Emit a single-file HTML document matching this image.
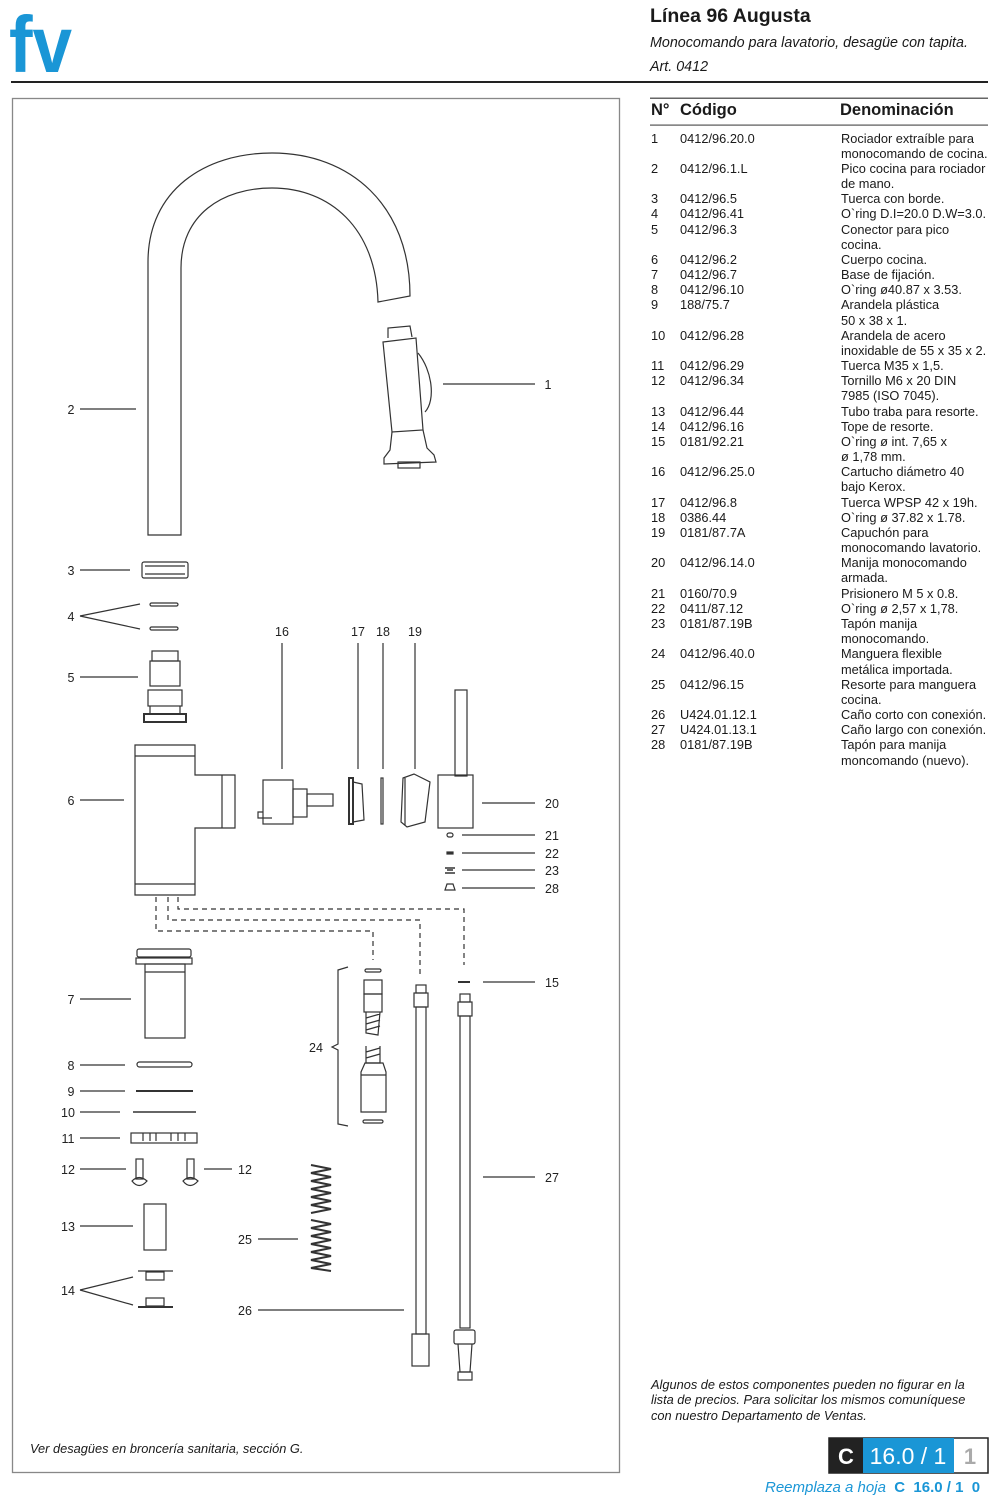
<!DOCTYPE html>
<html><head><meta charset="utf-8"><style>
body{margin:0;width:1007px;height:1500px;background:#fff;position:relative;font-family:"Liberation Sans",Arial,sans-serif;color:#1a1a1a;overflow:hidden}
.a{position:absolute;white-space:nowrap}
#tbl{position:absolute;left:651px;top:130.5px;font-size:12.8px;line-height:15.17px}
#tbl .r{display:flex}
#tbl .n{width:29px}
#tbl .c{width:161px}
</style></head><body>
<svg class="a" style="left:0;top:0" width="1007" height="1500" viewBox="0 0 1007 1500">
<text x="9" y="72" font-family="Liberation Sans" font-weight="bold" font-size="80" fill="#1a96d6" textLength="63" lengthAdjust="spacingAndGlyphs">fv</text>
<rect x="11" y="81" width="977" height="2" fill="#222"/>
<rect x="12.5" y="98.5" width="607" height="1374" fill="none" stroke="#888" stroke-width="1.3"/>
<rect x="650" y="97.5" width="338" height="1.5" fill="#666"/>
<rect x="650" y="124.5" width="338" height="1.2" fill="#555"/>
<g fill="none" stroke="#333" stroke-width="1.2">
<path d="M148,535 L148,262 C148,190 205,153 272,153 C350,153 410,205 410,296 L378,302 C376,228 330,188 272,188 C222,188 181,215 181,268 L181,535 Z"/>
<path d="M388,338 L388,328 L410,326 L412,337"/><path d="M383,342 L416,338 L423,430 L392,432 Z"/><path d="M392,432 L390,450 L384,458 L384,464 L436,462 L434,455 L427,448 L423,430"/><rect x="398" y="462" width="22" height="6"/><path d="M418,353 C432,370 436,400 425,412"/>
<line x1="443" y1="384" x2="535" y2="384"/>
<line x1="80" y1="409" x2="136" y2="409"/>
<line x1="80" y1="570" x2="130" y2="570"/>
<line x1="80" y1="616" x2="140" y2="604"/><line x1="80" y1="616" x2="140" y2="629"/>
<line x1="80" y1="677" x2="138" y2="677"/>
<line x1="80" y1="800" x2="124" y2="800"/>
<line x1="282" y1="643" x2="282" y2="769"/>
<line x1="358" y1="643" x2="358" y2="769"/>
<line x1="383" y1="643" x2="383" y2="769"/>
<line x1="415" y1="643" x2="415" y2="769"/>
<line x1="482" y1="803" x2="535" y2="803"/>
<line x1="462" y1="835" x2="535" y2="835"/>
<line x1="462" y1="853" x2="535" y2="853"/>
<line x1="462" y1="870" x2="535" y2="870"/>
<line x1="462" y1="888" x2="535" y2="888"/>
<line x1="483" y1="982" x2="535" y2="982"/>
<line x1="483" y1="1177" x2="535" y2="1177"/>
<line x1="80" y1="999" x2="131" y2="999"/>
<line x1="80" y1="1065" x2="125" y2="1065"/>
<line x1="80" y1="1091" x2="125" y2="1091"/>
<line x1="80" y1="1112" x2="120" y2="1112"/>
<line x1="80" y1="1138" x2="120" y2="1138"/>
<line x1="80" y1="1169" x2="126" y2="1169"/>
<line x1="204" y1="1169" x2="232" y2="1169"/>
<line x1="80" y1="1226" x2="133" y2="1226"/>
<line x1="80" y1="1290" x2="133" y2="1277"/><line x1="80" y1="1290" x2="133" y2="1305"/>
<line x1="258" y1="1239" x2="298" y2="1239"/>
<line x1="258" y1="1310" x2="404" y2="1310"/>
<rect x="142" y="562" width="46" height="16" rx="2"/><line x1="145" y1="566" x2="185" y2="566"/><line x1="145" y1="574" x2="185" y2="574"/>
<rect x="150" y="603" width="28" height="3" rx="1.5"/><rect x="150" y="627" width="28" height="3" rx="1.5"/>
<rect x="152" y="651" width="26" height="10"/><rect x="150" y="661" width="30" height="25"/><rect x="148" y="690" width="34" height="16"/><rect x="144" y="714" width="42" height="8" stroke-width="2"/><line x1="150" y1="706" x2="150" y2="714"/><line x1="180" y1="706" x2="180" y2="714"/>
<path d="M135,745 L195,745 L195,775 L235,775 L235,828 L195,828 L195,895 L135,895 Z"/><line x1="135" y1="756" x2="195" y2="756"/><line x1="135" y1="884" x2="195" y2="884"/><line x1="222" y1="775" x2="222" y2="828"/>
<rect x="263" y="780" width="30" height="44"/><rect x="293" y="789" width="14" height="28"/><rect x="307" y="794" width="26" height="12"/><path d="M263,812 L258,812 L258,818 L272,818"/>
<rect x="349" y="778" width="4" height="46" stroke-width="2"/><path d="M353,782 L362,784 L364,820 L353,822"/>
<rect x="381" y="778" width="2" height="46"/>
<path d="M403,778 L414,774 L430,782 L425,822 L407,827 L401,822 Z"/><line x1="405" y1="778" x2="405" y2="825"/>
<rect x="455" y="690" width="12" height="86"/><rect x="438" y="775" width="35" height="53"/>
<rect x="447" y="833" width="6" height="4" rx="2"/><rect x="447" y="852" width="6" height="2" fill="#333"/>
<path d="M445,868 L455,868 M447,870 L453,870 M445,873 L455,873" stroke-width="1.6"/>
<path d="M447,884 L453,884 L455,890 L445,890 Z"/>
<g stroke-dasharray="5,4">
<path d="M156,897 L156,931 L373,931 L373,960"/>
<path d="M168,897 L168,920 L420,920 L420,975"/>
<path d="M178,897 L178,909 L464,909 L464,965"/>
</g>
<rect x="137" y="949" width="54" height="8" rx="2"/><rect x="136" y="958" width="56" height="6"/><rect x="145" y="964" width="40" height="74"/><line x1="145" y1="972" x2="185" y2="972"/>
<rect x="137" y="1062" width="55" height="5" rx="2.5"/>
<line x1="136" y1="1091" x2="193" y2="1091" stroke-width="2"/>
<line x1="133" y1="1112" x2="196" y2="1112" stroke-width="2" stroke="#666"/>
<rect x="131" y="1133" width="66" height="10"/><path d="M143,1133 V1141 M150,1133 V1141 M156,1133 V1141 M171,1133 V1141 M178,1133 V1141 M185,1133 V1141"/>
<rect x="136" y="1159" width="7" height="20"/><path d="M132,1181 Q139,1174 147,1181 Q139,1190 132,1181Z"/>
<rect x="187" y="1159" width="7" height="20"/><path d="M183,1181 Q190,1174 198,1181 Q190,1190 183,1181Z"/>
<rect x="144" y="1204" width="22" height="46"/>
<line x1="138" y1="1271" x2="173" y2="1271"/><rect x="146" y="1272" width="18" height="8"/>
<rect x="146" y="1298" width="18" height="8"/><line x1="138" y1="1307" x2="173" y2="1307" stroke-width="2"/>
<path d="M348,967 L338,970 L338,1044 L332,1047 L338,1050 L338,1124 L348,1126"/>
<rect x="365" y="969" width="16" height="3" rx="1.5"/>
<rect x="364" y="980" width="18" height="14"/><rect x="364" y="994" width="18" height="18"/><path d="M366,1012 L366,1033 L378,1035 L380,1012 M366,1018 L380,1014 M366,1024 L380,1020 M366,1030 L380,1026"/>
<path d="M366,1046 L366,1063 L380,1063 L380,1046 M366,1052 L380,1048 M366,1058 L380,1054"/><path d="M361,1072 L365,1063 L383,1063 L386,1072 L386,1112 L361,1112 Z"/><line x1="361" y1="1075" x2="386" y2="1075"/>
<rect x="363" y="1120" width="20" height="3" rx="1.5"/>
<path d="M311,1165 L331,1169 L311,1173 L331,1177 L311,1181 L331,1185 L311,1189 L331,1193 L311,1197 L331,1201 L311,1205 L331,1209 L311,1213 M311,1220 L331,1224 L311,1228 L331,1232 L311,1236 L331,1240 L311,1244 L331,1248 L311,1252 L331,1256 L311,1260 L331,1264 L311,1268 L331,1271" stroke-width="2"/>
<rect x="416" y="985" width="10" height="8"/><rect x="414" y="993" width="14" height="14"/><rect x="416" y="1007" width="10" height="327"/><rect x="412" y="1334" width="17" height="32"/>
<line x1="458" y1="982" x2="470" y2="982" stroke-width="2"/>
<rect x="460" y="994" width="10" height="8"/><rect x="458" y="1002" width="14" height="14"/><rect x="460" y="1016" width="10" height="312"/><rect x="454" y="1330" width="21" height="14" rx="2"/><path d="M458,1344 L460,1372 L470,1372 L472,1344"/><rect x="458" y="1372" width="14" height="8"/>
</g>
<g font-family="Liberation Sans" font-size="12.5" fill="#222" text-anchor="middle">
<text x="71" y="414">2</text><text x="548" y="389">1</text>
<text x="71" y="575">3</text><text x="71" y="621">4</text><text x="71" y="682">5</text><text x="71" y="805">6</text>
<text x="282" y="636">16</text><text x="358" y="636">17</text><text x="383" y="636">18</text><text x="415" y="636">19</text>
<text x="552" y="808">20</text><text x="552" y="840">21</text><text x="552" y="858">22</text><text x="552" y="875">23</text><text x="552" y="893">28</text>
<text x="552" y="987">15</text><text x="316" y="1052">24</text>
<text x="71" y="1004">7</text><text x="71" y="1070">8</text><text x="71" y="1096">9</text><text x="68" y="1117">10</text><text x="68" y="1143">11</text><text x="68" y="1174">12</text><text x="245" y="1174">12</text>
<text x="68" y="1231">13</text><text x="68" y="1295">14</text><text x="245" y="1244">25</text><text x="245" y="1315">26</text><text x="552" y="1182">27</text>
</g>
<rect x="829" y="1438" width="159" height="35" fill="#fff" stroke="#222" stroke-width="1.5"/>
<rect x="829" y="1438" width="34" height="35" fill="#222"/>
<rect x="863" y="1438" width="91" height="35" fill="#1a96d6"/>
<text x="846" y="1464" font-family="Liberation Sans" font-weight="bold" font-size="22" fill="#fff" text-anchor="middle">C</text>
<text x="908" y="1464" font-family="Liberation Sans" font-size="23" fill="#fff" text-anchor="middle">16.0 / 1</text>
<text x="970" y="1464" font-family="Liberation Sans" font-weight="bold" font-size="22" fill="#aaa" text-anchor="middle">1</text>
</svg>
<div class="a" style="left:650px;top:5px;font-size:19.5px;font-weight:bold">Línea 96 Augusta</div>
<div class="a" style="left:650px;top:35px;font-size:14.3px;font-style:italic">Monocomando para lavatorio, desagüe con tapita.</div>
<div class="a" style="left:650px;top:59px;font-size:14.3px;font-style:italic">Art. 0412</div>
<div class="a" style="left:651px;top:101px;font-size:16.5px;font-weight:bold">N°</div>
<div class="a" style="left:680px;top:101px;font-size:16.5px;font-weight:bold">Código</div>
<div class="a" style="left:840px;top:101px;font-size:16.5px;font-weight:bold">Denominación</div>
<div id="tbl">
<div class="r"><span class="n">1</span><span class="c">0412/96.20.0</span><span>Rociador extraíble para<br>monocomando de cocina.</span></div>
<div class="r"><span class="n">2</span><span class="c">0412/96.1.L</span><span>Pico cocina para rociador<br>de mano.</span></div>
<div class="r"><span class="n">3</span><span class="c">0412/96.5</span><span>Tuerca con borde.</span></div>
<div class="r"><span class="n">4</span><span class="c">0412/96.41</span><span>O`ring D.I=20.0 D.W=3.0.</span></div>
<div class="r"><span class="n">5</span><span class="c">0412/96.3</span><span>Conector para pico<br>cocina.</span></div>
<div class="r"><span class="n">6</span><span class="c">0412/96.2</span><span>Cuerpo cocina.</span></div>
<div class="r"><span class="n">7</span><span class="c">0412/96.7</span><span>Base de fijación.</span></div>
<div class="r"><span class="n">8</span><span class="c">0412/96.10</span><span>O`ring ø40.87 x 3.53.</span></div>
<div class="r"><span class="n">9</span><span class="c">188/75.7</span><span>Arandela plástica<br>50 x 38 x 1.</span></div>
<div class="r"><span class="n">10</span><span class="c">0412/96.28</span><span>Arandela de acero<br>inoxidable de 55 x 35 x 2.</span></div>
<div class="r"><span class="n">11</span><span class="c">0412/96.29</span><span>Tuerca M35 x 1,5.</span></div>
<div class="r"><span class="n">12</span><span class="c">0412/96.34</span><span>Tornillo M6 x 20 DIN<br>7985 (ISO 7045).</span></div>
<div class="r"><span class="n">13</span><span class="c">0412/96.44</span><span>Tubo traba para resorte.</span></div>
<div class="r"><span class="n">14</span><span class="c">0412/96.16</span><span>Tope de resorte.</span></div>
<div class="r"><span class="n">15</span><span class="c">0181/92.21</span><span>O`ring ø int. 7,65 x<br>ø 1,78 mm.</span></div>
<div class="r"><span class="n">16</span><span class="c">0412/96.25.0</span><span>Cartucho diámetro 40<br>bajo Kerox.</span></div>
<div class="r"><span class="n">17</span><span class="c">0412/96.8</span><span>Tuerca WPSP 42 x 19h.</span></div>
<div class="r"><span class="n">18</span><span class="c">0386.44</span><span>O`ring ø 37.82 x 1.78.</span></div>
<div class="r"><span class="n">19</span><span class="c">0181/87.7A</span><span>Capuchón para<br>monocomando lavatorio.</span></div>
<div class="r"><span class="n">20</span><span class="c">0412/96.14.0</span><span>Manija monocomando<br>armada.</span></div>
<div class="r"><span class="n">21</span><span class="c">0160/70.9</span><span>Prisionero M 5 x 0.8.</span></div>
<div class="r"><span class="n">22</span><span class="c">0411/87.12</span><span>O`ring ø 2,57 x 1,78.</span></div>
<div class="r"><span class="n">23</span><span class="c">0181/87.19B</span><span>Tapón manija<br>monocomando.</span></div>
<div class="r"><span class="n">24</span><span class="c">0412/96.40.0</span><span>Manguera flexible<br>metálica importada.</span></div>
<div class="r"><span class="n">25</span><span class="c">0412/96.15</span><span>Resorte para manguera<br>cocina.</span></div>
<div class="r"><span class="n">26</span><span class="c">U424.01.12.1</span><span>Caño corto con conexión.</span></div>
<div class="r"><span class="n">27</span><span class="c">U424.01.13.1</span><span>Caño largo con conexión.</span></div>
<div class="r"><span class="n">28</span><span class="c">0181/87.19B</span><span>Tapón para manija<br>moncomando (nuevo).</span></div>
</div>
<div class="a" style="left:651px;top:1377px;font-size:12.8px;font-style:italic;line-height:15.3px">Algunos de estos componentes pueden no figurar en la<br>lista de precios. Para solicitar los mismos comuníquese<br>con nuestro Departamento de Ventas.</div>
<div class="a" style="left:30px;top:1441px;font-size:12.8px;font-style:italic">Ver desagües en broncería sanitaria, sección G.</div>
<div class="a" style="left:765px;top:1479px;font-size:15px;color:#1a96d6"><i>Reemplaza a hoja</i> <b>&nbsp;C&nbsp; 16.0 / 1&nbsp; 0</b></div>
</body></html>
